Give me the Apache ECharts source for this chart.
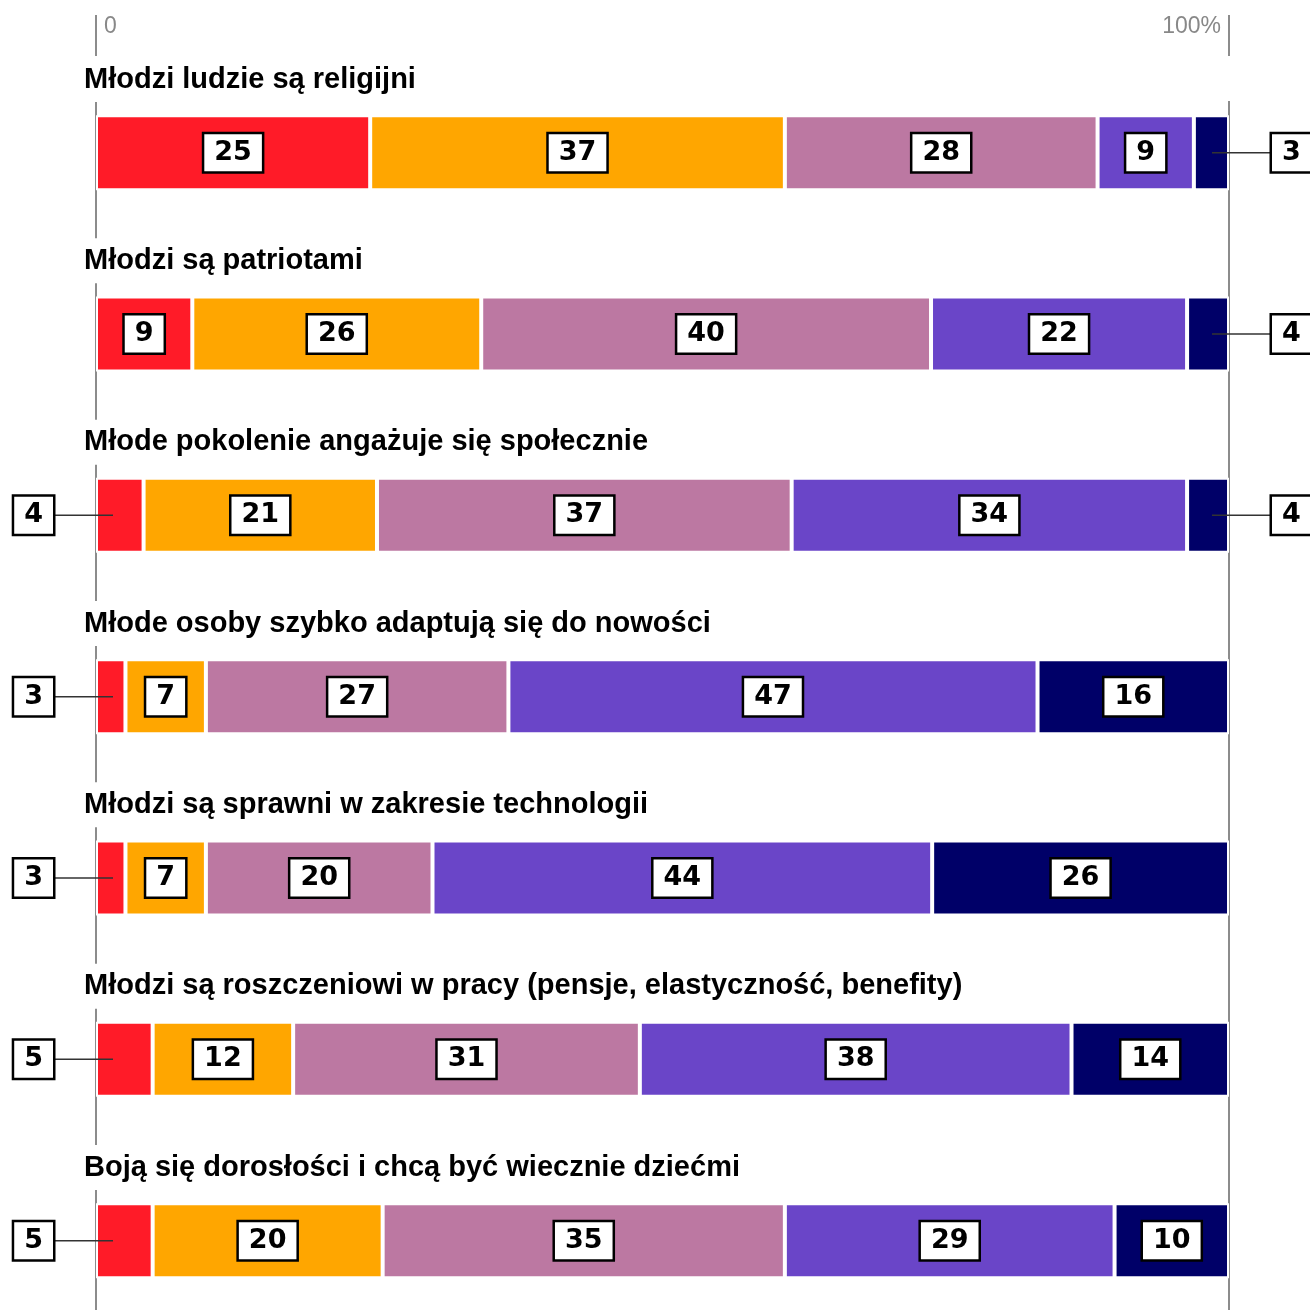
<!DOCTYPE html>
<html>
<head>
<meta charset="utf-8">
<script src="https://cdn.jsdelivr.net/npm/echarts@6/dist/echarts.min.js"></script>
<style>
  html, body { margin: 0; padding: 0; background: #fff; }
  #chart { width: 1310px; height: 1310px; }
</style>
</head>
<body>
<div id="chart"></div>
<script>
// ---- data ----
const categories = [
  'Młodzi ludzie są religijni',
  'Młodzi są patriotami',
  'Młode pokolenie angażuje się społecznie',
  'Młode osoby szybko adaptują się do nowości',
  'Młodzi są sprawni w zakresie technologii',
  'Młodzi są roszczeniowi w pracy (pensje, elastyczność, benefity)',
  'Boją się dorosłości i chcą być wiecznie dziećmi'
];
const seriesNames = ['Kategoria 1', 'Kategoria 2', 'Kategoria 3', 'Kategoria 4', 'Kategoria 5'];
// printed values (labels)
const values1 = [25, 9, 4, 3, 3, 5, 5];
const values2 = [37, 26, 21, 7, 7, 12, 20];
const values3 = [28, 40, 37, 27, 20, 31, 35];
const values4 = [9, 22, 34, 47, 44, 38, 29];
const values5 = [3, 4, 4, 16, 26, 14, 10];
// unrounded shares (%)
const share1 = [24.2, 8.5, 4.2, 2.6, 2.6, 5.0, 5.0];
const share2 = [36.6, 25.5, 20.6, 7.1, 7.1, 12.4, 20.3];
const share3 = [27.6, 39.7, 36.6, 26.7, 20.0, 30.6, 35.5];
const share4 = [8.5, 22.6, 34.9, 46.7, 44.1, 38.1, 29.1];
const share5 = [3.1, 3.7, 3.7, 16.9, 26.2, 13.9, 10.1];
const tickLabels = ['0', '100%'];

// ---- styles ----
const colors = ['#FF1B28', '#FFA600', '#BC78A2', '#6A45C8', '#000068'];
const allValues = [values1, values2, values3, values4, values5];
const allShares = [share1, share2, share3, share4, share5];
const OUTSIDE_MAX = 5;
const numFont = 'DejaVu Sans';
const lineColor = '#666';

const rowSums = categories.map((c, i) => allShares.reduce((s, arr) => s + arr[i], 0));

const boxLabel = {
  color: '#000',
  fontFamily: numFont,
  fontWeight: 'bold',
  fontSize: 27,
  lineHeight: 27,
  backgroundColor: '#fff',
  borderColor: '#000',
  borderWidth: 2.5,
  padding: [6, 10, 4, 10]
};

const barSeries = allShares.map((arr, si) => ({
  name: seriesNames[si],
  type: 'bar',
  stack: 'total',
  xAxisIndex: 0,
  yAxisIndex: 0,
  barWidth: 75,
  clip: false,
  z: 2,
  itemStyle: { color: colors[si], borderColor: '#fff', borderWidth: 2 },
  data: arr.map((v, i) => ({
    value: v / rowSums[i] * 100,
    raw: allValues[si][i],
    label: { show: allValues[si][i] > OUTSIDE_MAX }
  })),
  label: Object.assign({
    show: true,
    position: 'inside',
    formatter: p => String(p.data.raw)
  }, boxLabel)
}));

// outside labels (small first / last segments)
const outsideData = [];
categories.forEach((c, i) => {
  if (values1[i] <= OUTSIDE_MAX) outsideData.push([i, 0, values1[i]]);
  if (values5[i] <= OUTSIDE_MAX) outsideData.push([i, 1, values5[i]]);
});

const outsideSeries = {
  type: 'custom',
  xAxisIndex: 0,
  yAxisIndex: 0,
  z: 5,
  silent: true,
  clip: false,
  data: outsideData,
  encode: { x: 1, y: 0 },
  renderItem: function (params, api) {
    const row = api.value(0);
    const side = api.value(1);
    const val = api.value(2);
    const p = api.coord([side ? 100 : 0, row]);
    const dir = side ? 1 : -1;
    const edge = p[0] + dir * 43;
    return {
      type: 'group',
      children: [
        {
          type: 'line',
          shape: { x1: edge, y1: p[1], x2: p[0] - dir * 17, y2: p[1] },
          style: { stroke: '#333', lineWidth: 1.5 }
        },
        {
          type: 'text',
          style: {
            text: String(val),
            x: edge,
            y: p[1],
            align: side ? 'left' : 'right',
            verticalAlign: 'middle',
            fill: '#000',
            font: 'bold 27px "' + numFont + '"',
            backgroundColor: '#fff',
            borderColor: '#000',
            borderWidth: 2.5,
            padding: [6, 10, 4, 10],
            lineHeight: 27
          }
        }
      ]
    };
  }
};

const option = {
  animation: false,
  backgroundColor: '#fff',
  grid: [
    { left: 96, right: 81, top: 152.7, bottom: 69.3 },  // bars (row centres)
    { left: 80, right: 0, top: 79.5, bottom: 142.5 },   // titles (title centres)
    { left: 96, right: 81, top: 101, bottom: 0 },       // reference lines
    { left: 96, right: 81, top: 15, bottom: 1254 }      // header ticks + labels
  ],
  xAxis: [
    { gridIndex: 0, type: 'value', min: 0, max: 100, show: false },
    { gridIndex: 1, type: 'value', min: 0, max: 100, show: false },
    {
      gridIndex: 2, type: 'value', min: 0, max: 100, interval: 100, z: 0,
      axisLine: { show: false },
      axisTick: { show: false },
      axisLabel: { show: false },
      splitLine: { show: true, lineStyle: { color: lineColor, width: 1.5 } }
    },
    {
      gridIndex: 3, type: 'value', min: 0, max: 100, interval: 100, z: 0,
      position: 'bottom',
      axisLine: { show: false },
      axisTick: { show: false },
      splitLine: { show: true, lineStyle: { color: lineColor, width: 1.5 } },
      axisLabel: {
        show: true,
        inside: true,
        margin: 18,
        alignMinLabel: 'left',
        alignMaxLabel: 'right',
        formatter: v => v === 0 ? '{a|' + tickLabels[0] + '}' : '{b|' + tickLabels[1] + '}',
        rich: {
          a: { color: '#888', fontFamily: 'Liberation Sans', fontSize: 23, padding: [0, 0, 0, 8] },
          b: { color: '#888', fontFamily: 'Liberation Sans', fontSize: 23, padding: [0, 8, 0, 0] }
        }
      }
    }
  ],
  yAxis: [
    { gridIndex: 0, type: 'category', inverse: true, boundaryGap: false, data: categories, show: false },
    {
      gridIndex: 1, type: 'category', inverse: true, boundaryGap: false, data: categories, z: 1,
      axisLine: { show: false },
      axisTick: { show: false },
      splitLine: { show: false },
      axisLabel: {
        show: true,
        inside: true,
        interval: 0,
        margin: 0,
        color: '#000',
        fontFamily: 'Liberation Sans',
        fontWeight: 'bold',
        fontSize: 29,
        lineHeight: 29,
        backgroundColor: '#fff',
        padding: [8, 4, 8, 4]
      }
    },
    { gridIndex: 2, type: 'value', min: 0, max: 1, show: false },
    { gridIndex: 3, type: 'value', min: 0, max: 1, show: false }
  ],
  series: barSeries.concat([outsideSeries])
};

const chart = echarts.init(document.getElementById('chart'), null, { renderer: 'canvas' });
chart.setOption(option);
</script>
</body>
</html>
